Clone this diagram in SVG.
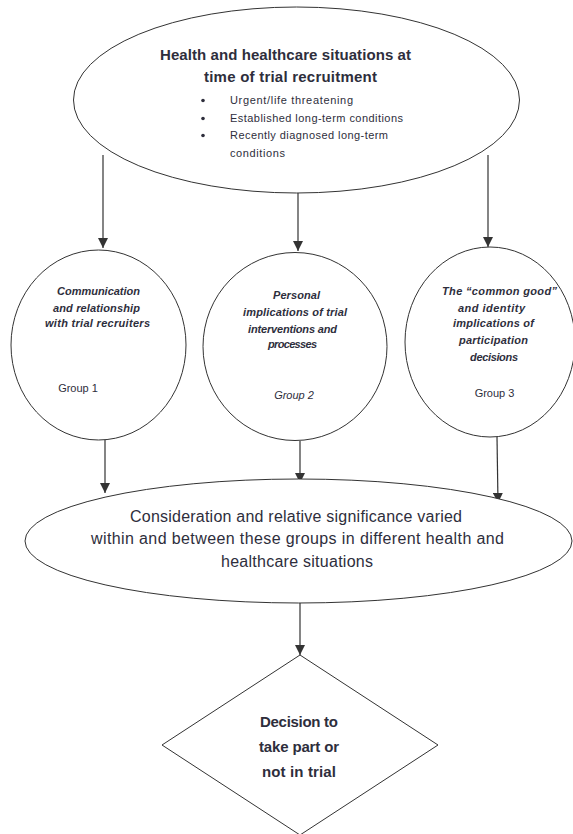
<svg xmlns="http://www.w3.org/2000/svg" width="573" height="834" viewBox="0 0 573 834">
<defs>
<marker id="ah" viewBox="0 0 10 10" refX="10" refY="5" markerWidth="10" markerHeight="10" markerUnits="userSpaceOnUse" orient="auto">
<path d="M0,0 L10,5 L0,10 Z" fill="#333"/>
</marker>
</defs>
<style>
.shape{fill:#fff;stroke:#333;stroke-width:1}
.conn{stroke:#333;stroke-width:1.2;fill:none;marker-end:url(#ah)}
text{font-family:"Liberation Sans",Arial,sans-serif;fill:#2e2e3c;text-anchor:middle}
.title{font-size:15px;font-weight:bold}
.bul{font-size:11px;text-anchor:start}
.ci{font-size:11px;font-weight:bold;font-style:italic}
.grp{font-size:11px}
.mid{font-size:16px}
.dec{font-size:15px;font-weight:bold}
</style>
<rect width="573" height="834" fill="#fff"/>
<g id="connectors">
<line class="conn" x1="103" y1="155" x2="103" y2="248"/>
<line class="conn" x1="298" y1="193" x2="298" y2="251"/>
<line class="conn" x1="488" y1="155" x2="488" y2="247"/>
<line class="conn" x1="105" y1="440" x2="105" y2="493"/>
<line class="conn" x1="300" y1="441" x2="300" y2="483"/>
<line class="conn" x1="497" y1="437" x2="498" y2="503"/>
<line class="conn" x1="300" y1="603" x2="300" y2="655"/>
</g>
<g id="situations">
<ellipse class="shape" cx="296.5" cy="100" rx="223" ry="93"/>
<text class="title" x="285.5" y="60" textLength="251">Health and healthcare situations at</text>
<text class="title" x="290.5" y="82" textLength="173">time of trial recruitment</text>
<circle cx="203" cy="100.5" r="1.8" fill="#2e2e3c"/>
<circle cx="203" cy="118.5" r="1.8" fill="#2e2e3c"/>
<circle cx="203" cy="135.5" r="1.8" fill="#2e2e3c"/>
<text class="bul" x="230" y="104" textLength="123">Urgent/life threatening</text>
<text class="bul" x="230" y="122" textLength="173">Established long-term conditions</text>
<text class="bul" x="230" y="139" textLength="158">Recently diagnosed long-term</text>
<text class="bul" x="230" y="157" textLength="55">conditions</text>
</g>
<g id="group1">
<ellipse class="shape" cx="98.5" cy="345" rx="87.5" ry="95"/>
<text class="ci" x="98.5" y="295" textLength="83">Communication</text>
<text class="ci" x="96.5" y="312" textLength="87">and relationship</text>
<text class="ci" x="97.5" y="327" textLength="105">with trial recruiters</text>
<text class="grp" x="78" y="392">Group 1</text>
</g>
<g id="group2">
<ellipse class="shape" cx="295" cy="346.5" rx="92" ry="94"/>
<text class="ci" x="296.5" y="299" textLength="47">Personal</text>
<text class="ci" x="295" y="316" textLength="104">implications of trial</text>
<text class="ci" x="292.5" y="333" textLength="89">interventions and</text>
<text class="ci" x="292.5" y="348" textLength="49">processes</text>
<text class="grp" x="294" y="399" font-style="italic">Group 2</text>
</g>
<g id="group3">
<ellipse class="shape" cx="490" cy="342" rx="85" ry="95"/>
<text class="ci" x="499.5" y="295" textLength="115">The “common good”</text>
<text class="ci" x="491.5" y="312" textLength="67">and identity</text>
<text class="ci" x="493.5" y="327" textLength="81">implications of</text>
<text class="ci" x="493.5" y="344" textLength="69">participation</text>
<text class="ci" x="494" y="361" textLength="48">decisions</text>
<text class="grp" x="494.5" y="397">Group 3</text>
</g>
<g id="consideration">
<ellipse class="shape" cx="298.5" cy="541" rx="273.5" ry="62"/>
<text class="mid" x="296" y="522" textLength="332">Consideration and relative significance varied</text>
<text class="mid" x="297.5" y="544" textLength="413">within and between these groups in different health and</text>
<text class="mid" x="297" y="567" textLength="152">healthcare situations</text>
</g>
<g id="decision">
<polygon class="shape" points="300,655 438,745 300,835 162,745"/>
<text class="dec" x="299" y="727" textLength="78">Decision to</text>
<text class="dec" x="299" y="752" textLength="80">take part or</text>
<text class="dec" x="299" y="777" textLength="74">not in trial</text>
</g>
</svg>
